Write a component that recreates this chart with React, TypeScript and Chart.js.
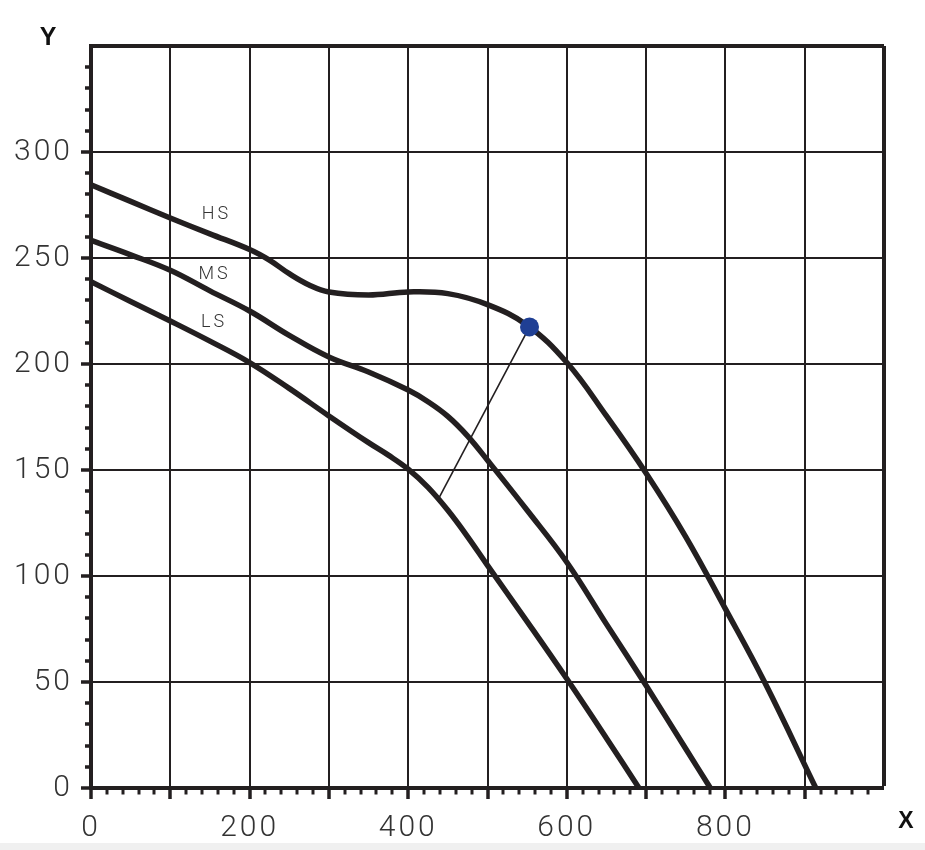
import { useEffect, useRef } from "react";
import { Chart, registerables } from "chart.js";

Chart.register(...registerables);

// ---- data ----
const hsX = [0, 50, 100, 150, 200, 225, 250, 275, 300, 350, 400, 450, 500, 550, 600, 650, 700, 750, 800, 850, 914];
const hsY = [284.5, 276.7, 268.9, 261.4, 254, 249, 242.6, 237.3, 234, 232.6, 234, 233.2, 228, 218.3, 200.7, 175.5, 148.5, 118.5, 84.5, 49.5, 0];

const msX = [0, 50, 100, 150, 200, 250, 300, 350, 400, 425, 450, 475, 500, 550, 600, 650, 700, 750, 781];
const msY = [258.3, 251.5, 244.2, 234.5, 225, 213.5, 203.3, 196.2, 187.7, 182.2, 175.3, 166, 154.6, 131, 106.5, 77.3, 48.3, 18.5, 0];

const lsX = [0, 50, 100, 150, 200, 250, 300, 350, 375, 400, 425, 450, 475, 500, 550, 600, 650, 691];
const lsY = [238.8, 229.5, 220.3, 210.8, 200.7, 188.5, 175.5, 162.9, 157, 150.4, 141.8, 131, 118.5, 105, 78.5, 51.5, 23.5, 0];

const dutyX = [553];
const dutyY = [217.5];

const leaderX = [438, 553];
const leaderY = [136.3, 217.5];

const curveNames = ["HS", "MS", "LS"];
const curveLabelX = [156.4, 154, 153.3];
const curveLabelY = [268.2, 240.3, 217.5];

const xMin = 0;
const xMax = 1000;
const yMin = 0;
const yMax = 350;
const xLabelStep = 200;
const yLabelStep = 50;

const INK = "#231f20";
const TEXT = "#333333";
const DOT = "#1f3f94";

const pts = (xs: number[], ys: number[]) => xs.map((x, i) => ({ x, y: ys[i] }));

const annotate = {
  id: "annotate",
  beforeDraw(chart: any) {
    chart.ctx.letterSpacing = "3px";
  },
  afterDraw(chart: any) {
    const { ctx, chartArea, scales } = chart;
    ctx.save();
    // curve names
    ctx.letterSpacing = "3px";
    ctx.fillStyle = TEXT;
    ctx.font = "300 18px Roboto";
    ctx.textAlign = "center";
    ctx.textBaseline = "alphabetic";
    curveNames.forEach((n, i) => {
      ctx.fillText(n, scales.x.getPixelForValue(curveLabelX[i]) + 1.5, scales.y.getPixelForValue(curveLabelY[i]));
    });
    // axis titles
    ctx.letterSpacing = "0px";
    ctx.fillStyle = "#111111";
    ctx.font = "bold 25px 'Liberation Sans', Arial, sans-serif";
    ctx.fillText("Y", chartArea.left - 43, chartArea.top - 1);
    ctx.font = "bold 23px 'Liberation Sans', Arial, sans-serif";
    ctx.fillText("X", chartArea.right + 22, chartArea.bottom + 40);
    ctx.restore();
  },
};

export default function App() {
  const ref = useRef<HTMLCanvasElement | null>(null);

  useEffect(() => {
    if (!ref.current) return;
    const curve = (label: string, xs: number[], ys: number[]) => ({
      label,
      data: pts(xs, ys),
      borderColor: INK,
      borderWidth: 5.5,
      borderCapStyle: "round" as const,
      borderJoinStyle: "round" as const,
      pointRadius: 0,
      fill: false,
      tension: 0.4,
      order: 2,
    });
    const chart = new Chart(ref.current, {
      type: "line",
      data: {
        datasets: [
          {
            label: "duty",
            data: pts(dutyX, dutyY),
            showLine: false,
            pointRadius: 9.5,
            pointBackgroundColor: DOT,
            pointBorderWidth: 0,
            order: 0,
          },
          {
            label: "leader",
            data: pts(leaderX, leaderY),
            borderColor: INK,
            borderWidth: 1.6,
            pointRadius: 0,
            tension: 0,
            order: 1,
          },
          curve("HS", hsX, hsY),
          curve("MS", msX, msY),
          curve("LS", lsX, lsY),
        ] as any,
      },
      options: {
        animation: false,
        responsive: false,
        events: [],
        layout: { padding: { left: 0, top: 46, right: 41, bottom: 0 } },
        plugins: { legend: { display: false }, tooltip: { enabled: false } },
        scales: {
          x: {
            type: "linear",
            min: xMin,
            max: xMax,
            afterFit: (s: any) => {
              s.height = 62;
            },
            border: { display: true, color: INK, width: 4 },
            grid: {
              drawTicks: true,
              tickLength: 11,
              color: (c: any) => {
                const v = c.tick?.value ?? 0;
                return v % 100 === 0 && v > xMin ? INK : "transparent";
              },
              lineWidth: (c: any) => {
                const v = c.tick?.value ?? 0;
                if (v === xMax) return 4;
                return v % 100 === 0 && v > xMin ? 2 : 0;
              },
              tickColor: (c: any) => {
                const v = c.tick?.value ?? 0;
                return v === xMax ? "transparent" : INK;
              },
              tickWidth: (c: any) => {
                const v = c.tick?.value ?? 0;
                return v % 100 === 0 ? 3.5 : 3;
              },
              tickBorderDash: (c: any) => {
                const v = c.tick?.value ?? 0;
                return v % 100 === 0 ? [] : [4.5, 100];
              },
            },
            ticks: {
              stepSize: 20,
              maxTicksLimit: 200,
              autoSkip: false,
              maxRotation: 0,
              padding: 11,
              color: TEXT,
              font: { family: "Roboto", size: 30, weight: "300" as any },
              callback: (v: any) => (v % xLabelStep === 0 && v < xMax ? String(v) : ""),
            },
          },
          y: {
            type: "linear",
            min: yMin,
            max: yMax,
            afterFit: (s: any) => {
              s.width = 91;
            },
            border: { display: true, color: INK, width: 4 },
            grid: {
              drawTicks: true,
              tickLength: 10,
              color: (c: any) => {
                const v = c.tick?.value ?? 0;
                return v % 50 === 0 && v > yMin ? INK : "transparent";
              },
              lineWidth: (c: any) => {
                const v = c.tick?.value ?? 0;
                if (v === yMax) return 4;
                return v % 50 === 0 && v > yMin ? 2 : 0;
              },
              tickColor: (c: any) => {
                const v = c.tick?.value ?? 0;
                return v === yMax ? "transparent" : INK;
              },
              tickWidth: 3.5,
              tickBorderDash: (c: any) => {
                const v = c.tick?.value ?? 0;
                return v % 50 === 0 ? [] : [0, 4, 10, 100];
              },
            },
            ticks: {
              stepSize: 10,
              maxTicksLimit: 200,
              autoSkip: false,
              padding: 8,
              color: TEXT,
              font: { family: "Roboto", size: 30, weight: "300" as any },
              callback: (v: any) => (v % yLabelStep === 0 && v < yMax ? String(v) : ""),
            },
          },
        },
      },
      plugins: [annotate],
    });
    return () => chart.destroy();
  }, []);

  return (
    <div style={{ position: "absolute", left: 0, top: 0, width: 925, height: 850, background: "#ffffff" }}>
      <canvas ref={ref} width={925} height={850} />
      <div style={{ position: "absolute", left: 0, top: 843, width: 925, height: 7, background: "#f0f0f0" }} />
    </div>
  );
}
